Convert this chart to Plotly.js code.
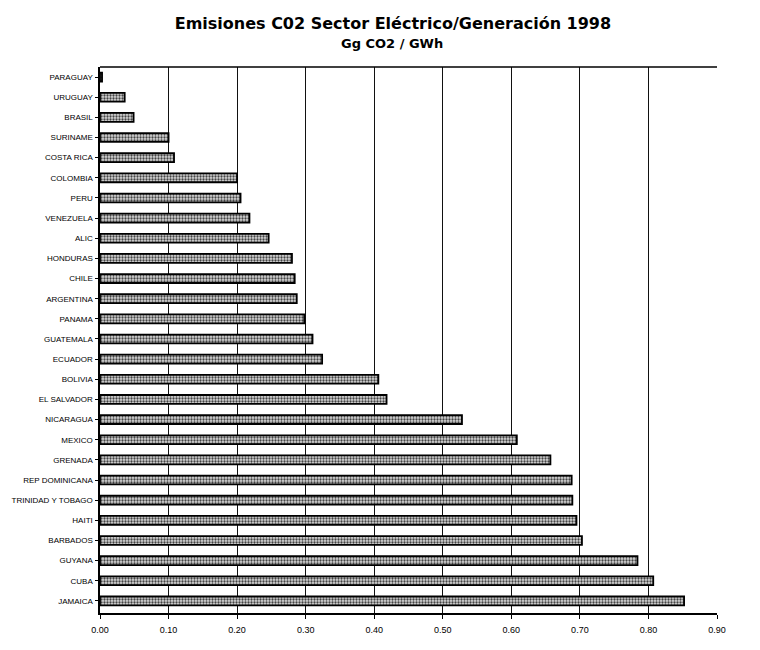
<!DOCTYPE html>
<html>
<head>
<meta charset="utf-8">
<script src="https://cdn.plot.ly/plotly-3.0.1.min.js"></script>
<style>html,body{margin:0;padding:0;background:#fff;}#chart{width:760px;height:650px;}</style>
</head>
<body>
<div id="chart"></div>
<script>
var countries = ["PARAGUAY","URUGUAY","BRASIL","SURINAME","COSTA RICA","COLOMBIA","PERU","VENEZUELA","ALIC","HONDURAS","CHILE","ARGENTINA","PANAMA","GUATEMALA","ECUADOR","BOLIVIA","EL SALVADOR","NICARAGUA","MEXICO","GRENADA","REP DOMINICANA","TRINIDAD Y TOBAGO","HAITI","BARBADOS","GUYANA","CUBA","JAMAICA"];
var emissions = [0.003,0.036,0.049,0.100,0.108,0.200,0.205,0.218,0.246,0.280,0.284,0.287,0.298,0.310,0.324,0.406,0.418,0.528,0.608,0.657,0.688,0.689,0.695,0.703,0.784,0.807,0.852];
var xTicks = [0,0.1,0.2,0.3,0.4,0.5,0.6,0.7,0.8,0.9];
var xTickLabels = ["0.00","0.10","0.20","0.30","0.40","0.50","0.60","0.70","0.80","0.90"];
var titleText = "Emisiones C02 Sector Eléctrico/Generación 1998";
var subtitleText = "Gg CO2 / GWh";

var trace = {
  type: "bar",
  orientation: "h",
  x: emissions,
  y: countries,
  marker: {
    color: "#b8b8b8",
    line: {color: "#000", width: 1.8},
    pattern: {shape: ".", fgcolor: "#444", bgcolor: "#d8d8d8", size: 3, solidity: 0.45}
  },
  hoverinfo: "x+y"
};

var layout = {
  width: 760, height: 650,
  paper_bgcolor: "#fff", plot_bgcolor: "#fff",
  margin: {l: 100, r: 43, t: 67, b: 37},
  showlegend: false,
  bargap: 0.56,
  font: {family: "Liberation Sans, Arial, sans-serif", color: "#000"},
  title: {
    text: "<b>" + titleText + "</b>",
    x: 0.517, xanchor: "center", y: 0.964, yanchor: "middle",
    font: {family: "DejaVu Sans, sans-serif", size: 16, color: "#000"}
  },
  annotations: [{
    text: "<b>" + subtitleText + "</b>",
    xref: "paper", yref: "paper", x: 0.473, y: 1, xanchor: "center", yanchor: "middle",
    yshift: 24, showarrow: false,
    font: {family: "DejaVu Sans, sans-serif", size: 13, color: "#000"}
  }],
  xaxis: {
    range: [0, 0.9],
    tickvals: xTicks,
    ticktext: xTickLabels,
    showgrid: true, gridcolor: "#111", gridwidth: 1.2,
    showline: true, linecolor: "#000", linewidth: 1.6,
    ticks: "outside", ticklen: 4, tickcolor: "#000",
    tickfont: {size: 9, family: "Liberation Sans, Arial, sans-serif"},
    ticklabelstandoff: 4,
    zeroline: false,
    fixedrange: true
  },
  yaxis: {
    type: "category",
    categoryorder: "array",
    categoryarray: countries,
    range: [26.6, -0.5],
    showline: true, linecolor: "#000", linewidth: 1.6,
    ticks: "outside", ticklen: 3, tickcolor: "#000",
    tickfont: {size: 8, family: "Liberation Sans, Arial, sans-serif"},
    showgrid: false, zeroline: false,
    ticklabelstandoff: 1,
    fixedrange: true
  },
  shapes: [
    {type: "line", xref: "paper", yref: "paper", x0: 0, x1: 1, y0: 1, y1: 1, line: {color: "#000", width: 1.6}}
  ]
};

Plotly.newPlot("chart", [trace], layout, {displayModeBar: false, staticPlot: true});
</script>
</body>
</html>
